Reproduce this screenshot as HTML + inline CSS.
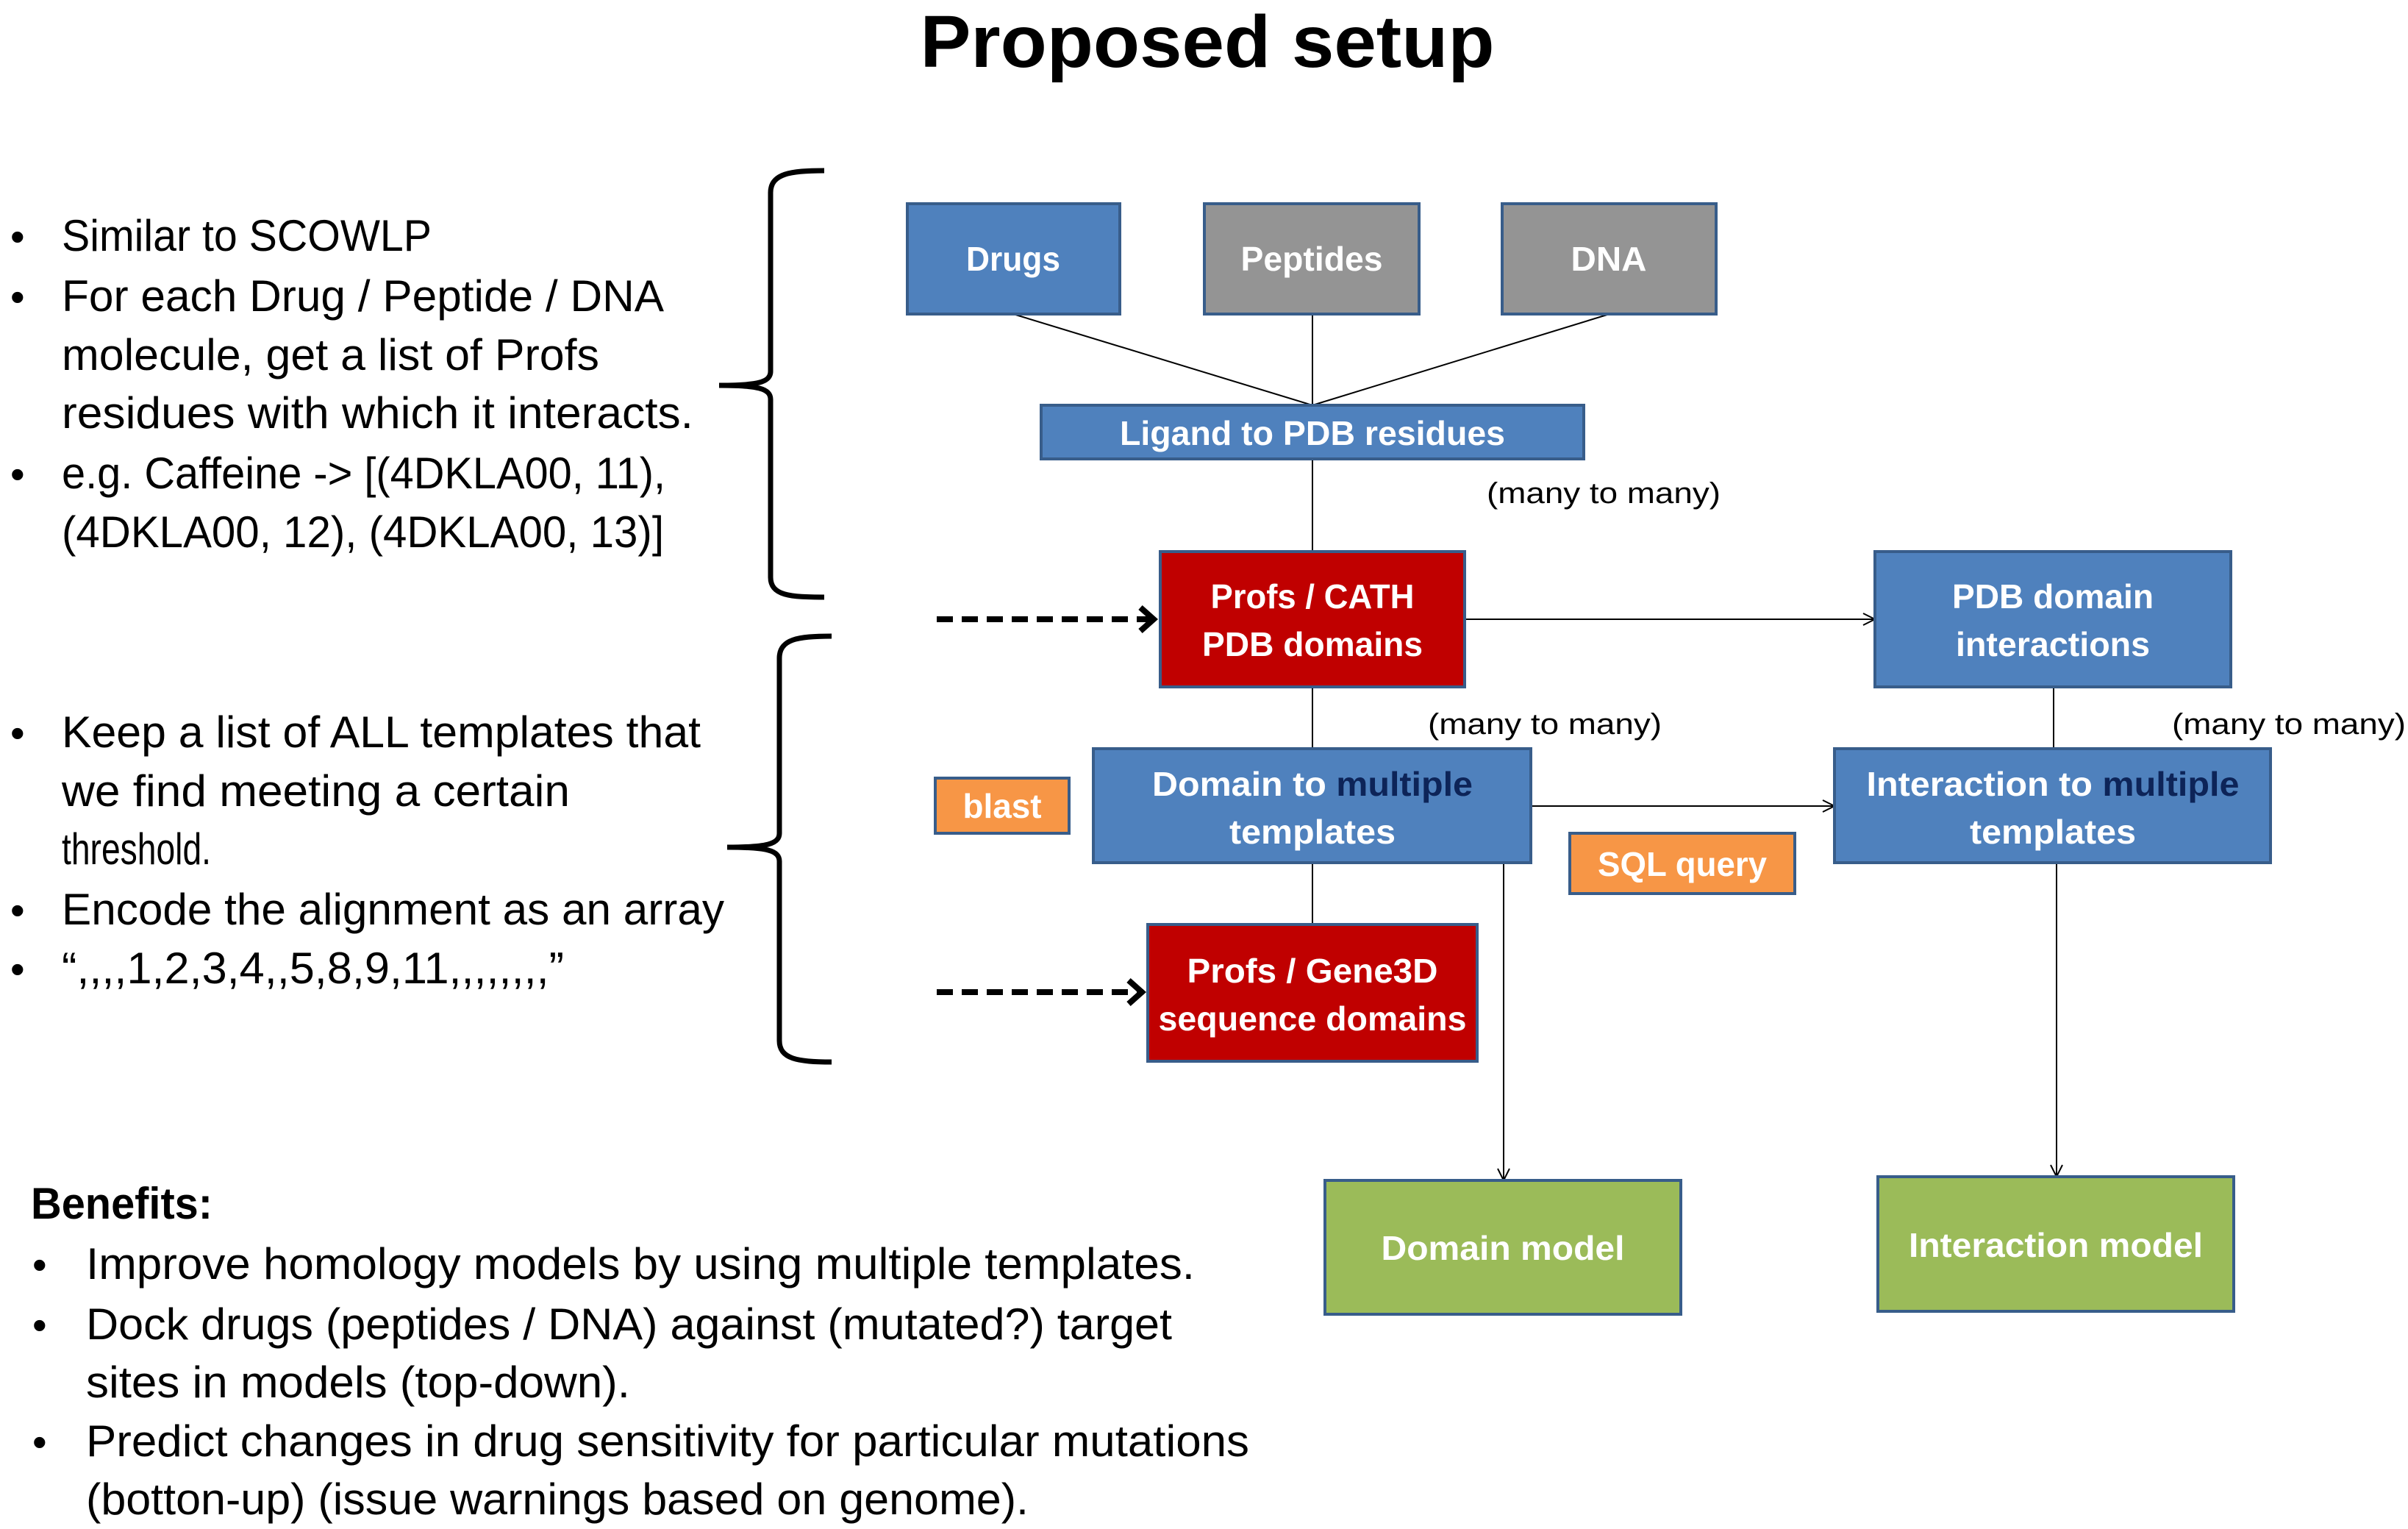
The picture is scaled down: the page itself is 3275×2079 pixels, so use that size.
<!DOCTYPE html>
<html><head><meta charset="utf-8"><style>html,body{margin:0;padding:0;background:#fff}svg{display:block}</style></head><body>
<svg width="3275" height="2079" viewBox="0 0 3275 2079" xmlns="http://www.w3.org/2000/svg" font-family="Liberation Sans, sans-serif">
<defs>
<marker id="a" markerWidth="20" markerHeight="20" refX="18" refY="10" orient="auto" markerUnits="userSpaceOnUse"><path d="M2,2 L18,10 L2,18" fill="none" stroke="#000" stroke-width="2"/></marker>
<marker id="b" markerWidth="30" markerHeight="40" refX="26" refY="20" orient="auto" markerUnits="userSpaceOnUse"><path d="M6,4 L24,20 L6,36" fill="none" stroke="#000" stroke-width="8"/></marker>
</defs>
<text x="1642" y="57" font-size="100" font-weight="bold" text-anchor="middle" dominant-baseline="central" textLength="781" lengthAdjust="spacingAndGlyphs">Proposed setup</text>

<g font-size="60" fill="#000">
<g font-size="56"><text x="14" y="341">•</text><text x="14" y="423">•</text><text x="14" y="664">•</text><text x="14" y="1016">•</text><text x="14" y="1257">•</text><text x="14" y="1337">•</text></g>
<text x="84" y="341" textLength="503" lengthAdjust="spacingAndGlyphs">Similar to SCOWLP</text>
<text x="84" y="423" textLength="819" lengthAdjust="spacingAndGlyphs">For each Drug / Peptide / DNA</text>
<text x="84" y="503" textLength="731" lengthAdjust="spacingAndGlyphs">molecule, get a list of Profs</text>
<text x="84" y="582" textLength="859" lengthAdjust="spacingAndGlyphs">residues with which it interacts.</text>
<text x="84" y="664" textLength="821" lengthAdjust="spacingAndGlyphs">e.g. Caffeine -&gt; [(4DKLA00, 11),</text>
<text x="84" y="744" textLength="819" lengthAdjust="spacingAndGlyphs">(4DKLA00, 12), (4DKLA00, 13)]</text>
<text x="84" y="1016" textLength="869" lengthAdjust="spacingAndGlyphs">Keep a list of ALL templates that</text>
<text x="84" y="1096" textLength="691" lengthAdjust="spacingAndGlyphs">we find meeting a certain</text>
<text x="84" y="1175" textLength="203" lengthAdjust="spacingAndGlyphs">threshold.</text>
<text x="84" y="1257" textLength="901" lengthAdjust="spacingAndGlyphs">Encode the alignment as an array</text>
<text x="84" y="1337" textLength="683" lengthAdjust="spacingAndGlyphs">“,,,,1,2,3,4,,5,8,9,11,,,,,,,,”</text>
<text x="42" y="1657" font-weight="bold" textLength="247" lengthAdjust="spacingAndGlyphs">Benefits:</text>
<g font-size="56"><text x="44" y="1739">•</text><text x="44" y="1821">•</text><text x="44" y="1980">•</text></g>
<text x="117" y="1739" textLength="1508" lengthAdjust="spacingAndGlyphs">Improve homology models by using multiple templates.</text>
<text x="117" y="1821" textLength="1477" lengthAdjust="spacingAndGlyphs">Dock drugs (peptides / DNA) against (mutated?) target</text>
<text x="117" y="1900" textLength="740" lengthAdjust="spacingAndGlyphs">sites in models (top-down).</text>
<text x="117" y="1980" textLength="1582" lengthAdjust="spacingAndGlyphs">Predict changes in drug sensitivity for particular mutations</text>
<text x="117" y="2059" textLength="1282" lengthAdjust="spacingAndGlyphs">(botton-up) (issue warnings based on genome).</text>
</g>

<g fill="none" stroke="#000" stroke-width="7">
<path d="M1121,232 C1075,232 1048,236 1048,262 L1048,505 C1048,520 1030,524 978,524 C1030,524 1048,528 1048,543 L1048,785 C1048,810 1075,812 1121,812"/>
<path d="M1131,865 C1085,865 1060,869 1060,895 L1060,1133 C1060,1148 1042,1152 989,1152 C1042,1152 1060,1156 1060,1171 L1060,1415 C1060,1440 1085,1444 1131,1444"/>
</g>

<g stroke="#000" stroke-width="2" fill="none">
<line x1="1378" y1="427" x2="1785" y2="551"/>
<line x1="1785" y1="427" x2="1785" y2="551"/>
<line x1="2189" y1="427" x2="1785" y2="551"/>
<line x1="1785" y1="624" x2="1785" y2="750"/>
<line x1="1992" y1="842" x2="2550" y2="842" marker-end="url(#a)"/>
<line x1="2793" y1="934" x2="2793" y2="1018"/>
<line x1="1785" y1="934" x2="1785" y2="1018"/>
<line x1="2082" y1="1096" x2="2495" y2="1096" marker-end="url(#a)"/>
<line x1="1785" y1="1173" x2="1785" y2="1257"/>
<line x1="2045" y1="1173" x2="2045" y2="1605" marker-end="url(#a)"/>
<line x1="2797" y1="1173" x2="2797" y2="1600" marker-end="url(#a)"/>
</g>
<g stroke="#000" stroke-width="8" fill="none" stroke-dasharray="22,12">
<line x1="1274" y1="842" x2="1571" y2="842" marker-end="url(#b)"/>
<line x1="1274" y1="1349" x2="1555" y2="1349" marker-end="url(#b)"/>
</g>

<g stroke="#385d8a" stroke-width="4">
<rect x="1234" y="277" width="289" height="150" fill="#4f81bd"/>
<rect x="1638" y="277" width="292" height="150" fill="#949494"/>
<rect x="2043" y="277" width="291" height="150" fill="#949494"/>
<rect x="1416" y="551" width="738" height="73" fill="#4f81bd"/>
<rect x="1578" y="750" width="414" height="184" fill="#c00000"/>
<rect x="2550" y="750" width="484" height="184" fill="#4f81bd"/>
<rect x="1487" y="1018" width="595" height="155" fill="#4f81bd"/>
<rect x="2495" y="1018" width="593" height="155" fill="#4f81bd"/>
<rect x="1272" y="1058" width="182" height="75" fill="#f79646"/>
<rect x="2135" y="1133" width="306" height="82" fill="#f79646"/>
<rect x="1561" y="1257" width="448" height="186" fill="#c00000"/>
<rect x="1802" y="1605" width="484" height="182" fill="#9bbb59"/>
<rect x="2554" y="1600" width="484" height="183" fill="#9bbb59"/>
</g>

<g fill="#fff" font-size="46" font-weight="bold" text-anchor="middle" dominant-baseline="central">
<text x="1378" y="352" textLength="128" lengthAdjust="spacingAndGlyphs">Drugs</text>
<text x="1784" y="352" textLength="193" lengthAdjust="spacingAndGlyphs">Peptides</text>
<text x="2188" y="352" textLength="103" lengthAdjust="spacingAndGlyphs">DNA</text>
<text x="1785" y="589" textLength="524" lengthAdjust="spacingAndGlyphs">Ligand to  PDB residues</text>
<text x="1785" y="811" textLength="277" lengthAdjust="spacingAndGlyphs">Profs / CATH</text>
<text x="1785" y="876" textLength="300" lengthAdjust="spacingAndGlyphs">PDB domains</text>
<text x="2792" y="811" textLength="274" lengthAdjust="spacingAndGlyphs">PDB domain</text>
<text x="2792" y="876" textLength="264" lengthAdjust="spacingAndGlyphs">interactions</text>
<text x="1785" y="1066" textLength="436" lengthAdjust="spacingAndGlyphs">Domain to <tspan fill="#0d2458">multiple</tspan></text>
<text x="1785" y="1131" textLength="226" lengthAdjust="spacingAndGlyphs">templates</text>
<text x="2792" y="1066" textLength="507" lengthAdjust="spacingAndGlyphs">Interaction to <tspan fill="#0d2458">multiple</tspan></text>
<text x="2792" y="1131" textLength="226" lengthAdjust="spacingAndGlyphs">templates</text>
<text x="1363" y="1096" textLength="107" lengthAdjust="spacingAndGlyphs">blast</text>
<text x="2288" y="1175" textLength="230" lengthAdjust="spacingAndGlyphs">SQL query</text>
<text x="1785" y="1320" textLength="341" lengthAdjust="spacingAndGlyphs">Profs / Gene3D</text>
<text x="1785" y="1385" textLength="419" lengthAdjust="spacingAndGlyphs">sequence domains</text>
<text x="2044" y="1697" textLength="331" lengthAdjust="spacingAndGlyphs">Domain model</text>
<text x="2796" y="1693" textLength="400" lengthAdjust="spacingAndGlyphs">Interaction model</text>
</g>
<g fill="#000" font-size="40" dominant-baseline="central">
<text x="2022" y="671" textLength="318" lengthAdjust="spacingAndGlyphs">(many to many)</text>
<text x="1942" y="985" textLength="318" lengthAdjust="spacingAndGlyphs">(many to many)</text>
<text x="2954" y="985" textLength="318" lengthAdjust="spacingAndGlyphs">(many to many)</text>
</g>
</svg>
</body></html>
